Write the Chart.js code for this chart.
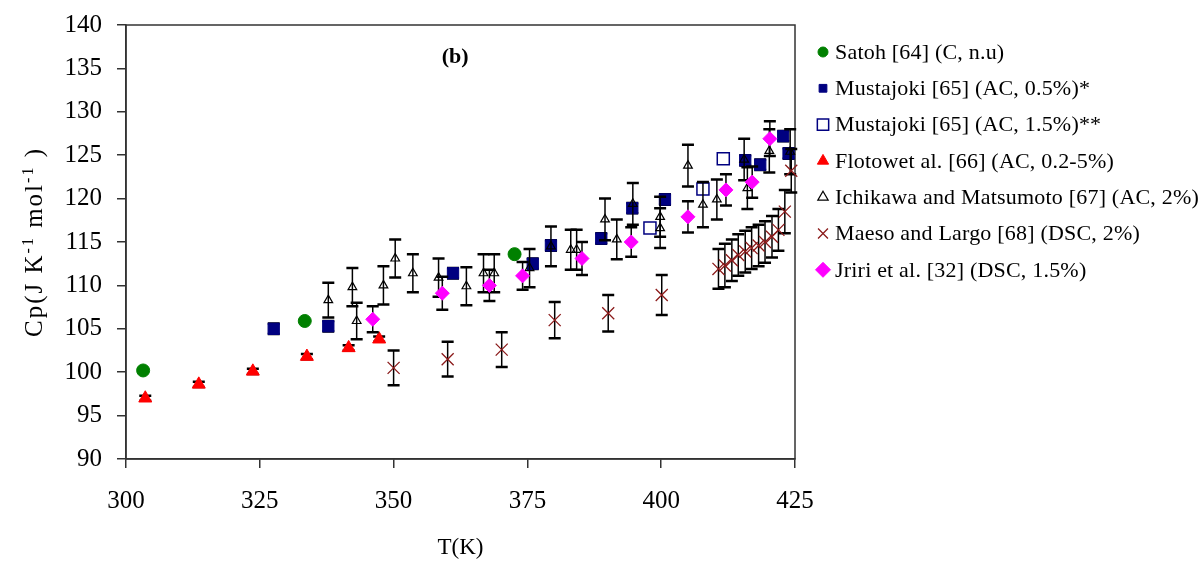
<!DOCTYPE html>
<html>
<head>
<meta charset="utf-8">
<script src="https://cdn.jsdelivr.net/npm/chart.js@4/dist/chart.umd.min.js"></script>
<style>
  html, body { margin: 0; padding: 0; background: #fff; }
  #wrap { width: 1204px; height: 562px; position: relative; }
</style>
</head>
<body>
<div id="wrap"><canvas id="cpChart"></canvas></div>
<script>
// Satoh [64]
const satohT = [303.2, 333.4, 372.6];
const satohCp = [100.2, 105.9, 113.6];

// Mustajoki [65] 0.5%
const must05T = [327.6, 337.8, 361.1, 376.0, 379.4, 388.8, 394.6, 400.7, 415.7, 418.5, 422.8, 423.8];
const must05Cp = [105.0, 105.3, 111.4, 112.5, 114.6, 115.4, 118.9, 119.9, 124.4, 123.9, 127.2, 125.2];
const must05Err = [0.6, 0.6, 0.6, 0.6, 0.6, 0.6, 0.6, 0.6, 0.6, 0.6, 0.6, 0.6];

// Mustajoki [65] 1.5%
const must15T = [397.9, 407.8, 411.6];
const must15Cp = [116.6, 121.1, 124.6];

// Flotow et al. [66]
const flotowT = [303.6, 313.6, 323.7, 333.8, 341.6, 347.3];
const flotowCp = [97.0, 98.6, 100.1, 101.8, 102.8, 103.8];
const flotowErr = [0.3, 0.3, 0.3, 0.3, 0.3, 0.3];

// Ichikawa and Matsumoto [67]
const ichiT = [337.8, 342.3, 343.1, 348.1, 350.3, 353.6, 358.4, 363.6, 366.8, 368.8, 375.4, 379.4, 383.1,
               384.2, 389.5, 391.7, 394.7, 399.8, 399.8, 405.0, 407.8, 410.4, 415.5, 416.1, 420.2, 424.1];
const ichiCp = [108.3, 109.8, 105.9, 110.0, 113.1, 111.4, 110.9, 109.9, 111.4, 111.4, 112.0, 114.5, 114.1,
                114.1, 117.6, 115.3, 119.4, 117.9, 116.6, 123.8, 119.3, 119.9, 124.5, 121.2, 125.5, 125.4];
const ichiErr = [2.0, 2.2, 2.1, 2.2, 2.2, 2.2, 2.2, 2.2, 2.2, 2.2, 2.2, 2.3, 2.3,
                 2.3, 2.4, 2.3, 2.4, 2.3, 2.3, 2.4, 2.6, 2.3, 2.4, 2.4, 2.5, 2.6];

// Maeso and Largo [68]
const maesoT = [350.0, 360.1, 370.2, 380.1, 390.1, 400.1, 410.7, 411.9, 413.2, 414.4, 415.7, 416.9,
                418.2, 419.4, 420.7, 421.9, 423.1, 424.3];
const maesoCp = [100.5, 101.5, 102.6, 106.0, 106.8, 108.9, 111.9, 112.3, 112.9, 113.5, 113.9, 114.3,
                 114.6, 115.0, 115.6, 116.4, 118.5, 123.2];
const maesoErr = [2.0, 2.0, 2.0, 2.1, 2.1, 2.3, 2.3, 2.5, 2.4, 2.4, 2.4, 2.4,
                  2.4, 2.4, 2.4, 2.4, 2.5, 2.5];

// Jriri et al. [32]
const jririT = [346.1, 359.1, 367.9, 374.1, 385.2, 394.4, 405.0, 412.1, 417.0, 420.3];
const jririCp = [106.1, 109.1, 110.0, 111.1, 113.1, 115.0, 117.9, 121.0, 121.9, 126.9];
const jririErr = [1.5, 1.9, 1.8, 1.6, 1.9, 1.7, 1.8, 1.8, 1.8, 2.0];

const xTicks = [300, 325, 350, 375, 400, 425];
const yTicks = [90, 95, 100, 105, 110, 115, 120, 125, 130, 135, 140];

const serif = '"Liberation Serif", "Times New Roman", serif';

function pts(xs, ys) {
    return xs.map((x, i) => ({ x: x, y: ys[i] }));
}

// error bars drawn just before each dataset's own markers
const errorBars = {
    id: 'errorBars',
    beforeDatasetDraw(chart, args) {
        const ds = chart.data.datasets[args.index];
        if (!ds.errors) return;
        const ctx = chart.ctx;
        const xs = chart.scales.x, ys = chart.scales.y;
        ctx.save();
        ctx.strokeStyle = '#000';
        ds.data.forEach((p, i) => {
            const px = xs.getPixelForValue(p.x);
            const top = ys.getPixelForValue(p.y + ds.errors[i]);
            const bot = ys.getPixelForValue(p.y - ds.errors[i]);
            ctx.lineWidth = 1.5;
            ctx.beginPath();
            ctx.moveTo(px, top);
            ctx.lineTo(px, bot);
            ctx.stroke();
            ctx.lineWidth = 2.5;
            ctx.beginPath();
            ctx.moveTo(px - 6, top); ctx.lineTo(px + 6, top);
            ctx.moveTo(px - 6, bot); ctx.lineTo(px + 6, bot);
            ctx.stroke();
        });
        ctx.restore();
    }
};

// y title with raised exponents, written piece by piece
const yTitleParts = [
    { t: 'Cp(J K', sup: false },
    { t: '-1', sup: true },
    { t: ' mol', sup: false },
    { t: '-1', sup: true },
    { t: ' )', sup: false }
];

// box round the plot, "(b)" tag, y title and the legend on the right
const decorations = {
    id: 'decorations',
    beforeDatasetsDraw(chart) {
        const { ctx, chartArea: a } = chart;
        ctx.save();
        ctx.strokeStyle = '#333';
        ctx.lineWidth = 1.5;
        ctx.strokeRect(a.left, a.top, a.right - a.left, a.bottom - a.top);
        ctx.restore();
    },
    afterDraw(chart) {
        const ctx = chart.ctx;
        const a = chart.chartArea;
        const xs = chart.scales.x, ys = chart.scales.y;
        ctx.save();
        ctx.fillStyle = '#000';
        ctx.font = 'bold 22px ' + serif;
        ctx.textAlign = 'center';
        ctx.textBaseline = 'middle';
        ctx.fillText('(b)', xs.getPixelForValue(361.5), ys.getPixelForValue(136.3));

        // y axis title
        const bigFont = '25px ' + serif, supFont = '16px ' + serif;
        ctx.save();
        if ('letterSpacing' in ctx) ctx.letterSpacing = '2px';
        let total = 0;
        yTitleParts.forEach(p => {
            ctx.font = p.sup ? supFont : bigFont;
            total += ctx.measureText(p.t).width;
        });
        ctx.translate(42, (a.top + a.bottom) / 2);
        ctx.rotate(-Math.PI / 2);
        ctx.textAlign = 'left';
        ctx.textBaseline = 'alphabetic';
        let cx = -total / 2;
        yTitleParts.forEach(p => {
            ctx.font = p.sup ? supFont : bigFont;
            ctx.fillText(p.t, cx, p.sup ? -9 : 0);
            cx += ctx.measureText(p.t).width;
        });
        ctx.restore();

        // legend in dataset index order
        const lx = 823, tx = 835, ly = 52, step = 36.3;
        ctx.font = '22px ' + serif;
        ctx.textAlign = 'left';
        ctx.textBaseline = 'middle';
        if ('letterSpacing' in ctx) ctx.letterSpacing = '0.2px';
        chart.data.datasets.forEach((ds, i) => {
            const y = ly + i * step;
            ctx.fillStyle = ds.backgroundColor;
            ctx.strokeStyle = ds.borderColor;
            ctx.lineWidth = ds.pointBorderWidth || 1;
            Chart.helpers.drawPoint(ctx, {
                pointStyle: ds.pointStyle,
                radius: ds.legendRadius,
                rotation: 0,
                borderWidth: ds.pointBorderWidth || 1
            }, lx, y);
            ctx.fillStyle = '#000';
            ctx.fillText(ds.label, tx, y + 1);
        });
        ctx.restore();
    }
};

const datasets = [
    {
        label: 'Satoh [64] (C, n.u)',
        data: pts(satohT, satohCp),
        pointStyle: 'circle', pointRadius: 6.5, legendRadius: 5,
        backgroundColor: '#008000', borderColor: '#008000', pointBorderWidth: 1
    },
    {
        label: 'Mustajoki [65] (AC, 0.5%)*',
        data: pts(must05T, must05Cp), errors: must05Err,
        pointStyle: 'rect', pointRadius: 8, legendRadius: 5.5,
        backgroundColor: '#000080', borderColor: '#000080', pointBorderWidth: 1
    },
    {
        label: 'Mustajoki [65] (AC, 1.5%)**',
        data: pts(must15T, must15Cp),
        pointStyle: 'rect', pointRadius: 8.5, legendRadius: 8,
        backgroundColor: 'rgba(255,255,255,0)', borderColor: '#000080', pointBorderWidth: 1.5
    },
    {
        label: 'Flotowet al. [66] (AC, 0.2-5%)',
        data: pts(flotowT, flotowCp), errors: flotowErr,
        pointStyle: 'triangle', pointRadius: 7.5, legendRadius: 6.5,
        backgroundColor: '#ff0000', borderColor: '#ff0000', pointBorderWidth: 1
    },
    {
        label: 'Ichikawa and Matsumoto [67] (AC, 2%)',
        data: pts(ichiT, ichiCp), errors: ichiErr,
        pointStyle: 'triangle', pointRadius: 5, legendRadius: 6,
        backgroundColor: 'rgba(255,255,255,0)', borderColor: '#000', pointBorderWidth: 1.2
    },
    {
        label: 'Maeso and Largo [68] (DSC, 2%)',
        data: pts(maesoT, maesoCp), errors: maesoErr,
        pointStyle: 'crossRot', pointRadius: 8.5, legendRadius: 7,
        backgroundColor: '#8b1a1a', borderColor: '#8b1a1a', pointBorderWidth: 1.3
    },
    {
        label: 'Jriri et al. [32] (DSC, 1.5%)',
        data: pts(jririT, jririCp), errors: jririErr,
        pointStyle: 'rectRot', pointRadius: 7, legendRadius: 7.5,
        backgroundColor: '#ff00ff', borderColor: '#ff00ff', pointBorderWidth: 1
    }
];

// later series are painted over earlier ones, like the original
datasets.forEach((ds, i) => {
    ds.order = datasets.length - i;
    ds.clip = false;
    ds.showLine = false;
    ds.pointHoverRadius = ds.pointRadius;
});

const axisFont = { family: serif, size: 25 };

new Chart(document.getElementById('cpChart'), {
    type: 'scatter',
    data: { datasets: datasets },
    plugins: [errorBars, decorations],
    options: {
        responsive: true,
        maintainAspectRatio: false,
        animation: false,
        layout: { padding: { left: 0, top: 25, right: 409, bottom: 0 } },
        plugins: {
            legend: { display: false },
            tooltip: { enabled: false }
        },
        scales: {
            x: {
                type: 'linear',
                min: 300, max: 425,
                afterBuildTicks: (axis) => { axis.ticks = xTicks.map(v => ({ value: v })); },
                afterFit: (axis) => {
                    axis.height = 103;
                    axis.paddingLeft = 0;
                    axis.paddingRight = 0;
                },
                ticks: { font: axisFont, color: '#000', padding: 18, maxRotation: 0 },
                grid: { drawOnChartArea: false, drawTicks: true, tickLength: 9, color: '#333', lineWidth: 1.5 },
                border: { display: true, color: '#333', width: 1.5 },
                title: {
                    display: true, text: 'T(K)', color: '#000',
                    font: { family: serif, size: 23 },
                    padding: { top: 0, bottom: 0 }
                }
            },
            y: {
                type: 'linear',
                min: 90, max: 140,
                afterBuildTicks: (axis) => { axis.ticks = yTicks.map(v => ({ value: v })); },
                afterFit: (axis) => {
                    axis.width = 126;
                    axis.paddingTop = 0;
                    axis.paddingBottom = 0;
                },
                ticks: { font: axisFont, color: '#000', padding: 15 },
                grid: { drawOnChartArea: false, drawTicks: true, tickLength: 9, color: '#333', lineWidth: 1.5 },
                border: { display: true, color: '#333', width: 1.5 },
                title: { display: false }
            }
        }
    }
});
</script>
</body>
</html>
